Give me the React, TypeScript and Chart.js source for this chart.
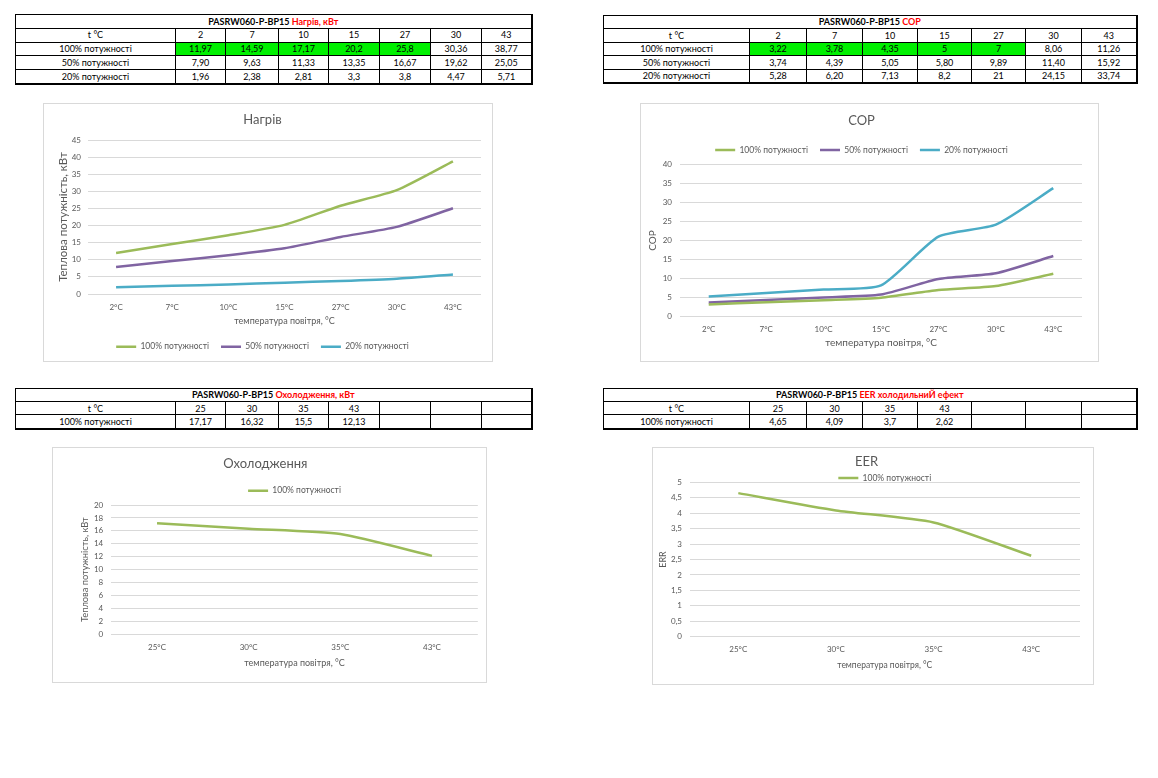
import React, { useEffect, useRef } from 'react';
import { Chart, registerables } from 'chart.js';

Chart.register(...registerables);

// ---------- data ----------
const heatTemps = ['2', '7', '10', '15', '27', '30', '43'];
const heat100Text = ['11,97', '14,59', '17,17', '20,2', '25,8', '30,36', '38,77'];
const heat50Text = ['7,90', '9,63', '11,33', '13,35', '16,67', '19,62', '25,05'];
const heat20Text = ['1,96', '2,38', '2,81', '3,3', '3,8', '4,47', '5,71'];

const cop100Text = ['3,22', '3,78', '4,35', '5', '7', '8,06', '11,26'];
const cop50Text = ['3,74', '4,39', '5,05', '5,80', '9,89', '11,40', '15,92'];
const cop20Text = ['5,28', '6,20', '7,13', '8,2', '21', '24,15', '33,74'];

const coolTemps = ['25', '30', '35', '43'];
const cool100Text = ['17,17', '16,32', '15,5', '12,13'];
const eer100Text = ['4,65', '4,09', '3,7', '2,62'];

const seriesNames = ['100% потужності', '50% потужності', '20% потужності'];
const seriesColors = ['#9bbb59', '#8064a2', '#4bacc6'];
const highlightedCells = 5;
const modelName = 'PASRW060-P-BP15';

const FONT = 'Lato, "Open Sans", "DejaVu Sans", sans-serif';
const TEXT = '#595959';
const GRID = '#d9d9d9';

const num = (s: string) => parseFloat(s.replace(',', '.'));
const degLabels = (t: string[]) => t.map((v) => `${v}°C`);

// ---------- table ----------
type Row = { label: string; cells: string[] };

function DataTable(props: {
  left: number; top: number; widths: number[]; rowH: number;
  suffix: string; header: string[]; rows: Row[]; highlight: boolean;
}) {
  const { left, top, widths, rowH, suffix, header, rows, highlight } = props;
  const total = widths.reduce((a, b) => a + b, 0);
  const cell: React.CSSProperties = {
    border: '1px solid #000', padding: 0, textAlign: 'center', height: rowH - 1,
    lineHeight: `${rowH - 4}px`, whiteSpace: 'nowrap', overflow: 'hidden',
  };
  const pad = (arr: string[]) => Array.from({ length: widths.length - 1 }, (_, i) => arr[i] ?? '');
  return (
    <table style={{
      position: 'absolute', left, top, width: total, borderCollapse: 'collapse', tableLayout: 'fixed',
      fontFamily: FONT, fontSize: 9, color: '#000', border: '1px solid #000',
      borderRight: '2px solid #000', borderBottom: '2px solid #000',
    }}>
      <colgroup>{widths.map((w, i) => <col key={i} style={{ width: w }} />)}</colgroup>
      <tbody>
        <tr>
          <td colSpan={widths.length} style={{ ...cell, fontWeight: 700 }}>
            {modelName} <span style={{ color: '#ff0000' }}>{suffix}</span>
          </td>
        </tr>
        <tr>
          <td style={cell}>t °C</td>
          {pad(header).map((h, i) => <td key={i} style={cell}>{h}</td>)}
        </tr>
        {rows.map((r, ri) => (
          <tr key={ri}>
            <td style={cell}>{r.label}</td>
            {pad(r.cells).map((c, i) => (
              <td key={i} style={{ ...cell, background: highlight && ri === 0 && i < highlightedCells ? '#00f000' : undefined }}>{c}</td>
            ))}
          </tr>
        ))}
      </tbody>
    </table>
  );
}

// ---------- chart ----------
type Spec = {
  labels: string[];
  series: { name: string; values: number[]; color: string }[];
  title: string; titleTop: number; titleBottom: number;
  legendPos: 'top' | 'bottom'; legendPad: number; legendFull: boolean; legendMaxH?: number;
  padRight: number; padBottom: number;
  yMax: number; yStep: number; yWidth: number; yTickPad: number;
  yTitle: string; yTitleSize: number; yTitlePad: number;
  xHeight: number; xTickPad: number; xTitleSize: number; xTitlePad: number;
};

function makeConfig(s: Spec): any {
  return {
    type: 'line',
    data: {
      labels: s.labels,
      datasets: s.series.map((d) => ({
        label: d.name, data: d.values, borderColor: d.color, backgroundColor: d.color,
        borderWidth: 2.5, pointRadius: 0, pointHoverRadius: 0, pointBorderWidth: 2.5,
        pointBorderColor: d.color, pointBackgroundColor: d.color, tension: 0.2, fill: false,
      })),
    },
    options: {
      animation: false, responsive: false, devicePixelRatio: 1,
      events: [],
      layout: { padding: { left: 0, top: 0, right: s.padRight, bottom: s.padBottom } },
      plugins: {
        title: {
          display: true, text: s.title, color: TEXT,
          font: { size: 13, weight: 'normal', family: FONT },
          padding: { top: s.titleTop, bottom: s.titleBottom },
        },
        legend: {
          display: true, position: s.legendPos, fullSize: s.legendFull, maxHeight: s.legendMaxH,
          labels: {
            usePointStyle: true, pointStyle: 'line', pointStyleWidth: 20, padding: s.legendPad,
            color: TEXT, font: { size: 8.5, family: FONT },
          },
        },
        tooltip: { enabled: false },
      },
      scales: {
        x: {
          offset: true,
          grid: { display: false, drawTicks: false }, border: { display: false },
          ticks: { color: TEXT, font: { size: 8, family: FONT }, padding: s.xTickPad, maxRotation: 0, autoSkip: false },
          title: {
            display: true, text: 'температура повітря, °C', color: TEXT,
            font: { size: s.xTitleSize, family: FONT }, padding: { top: 0, bottom: s.xTitlePad },
          },
          afterFit: (sc: any) => { sc.height = s.xHeight; sc.paddingLeft = 0; sc.paddingRight = 0; },
        },
        y: {
          min: 0, max: s.yMax,
          grid: { color: GRID, lineWidth: 1, drawTicks: false }, border: { display: false },
          ticks: {
            stepSize: s.yStep, autoSkip: false, color: TEXT, font: { size: 8, family: FONT }, padding: s.yTickPad,
            callback: (v: number) => String(Math.round(v * 100) / 100).replace('.', ','),
          },
          title: {
            display: true, text: s.yTitle, color: TEXT,
            font: { size: s.yTitleSize, family: FONT }, padding: { top: s.yTitlePad, bottom: 0 },
          },
          afterFit: (sc: any) => { sc.width = s.yWidth; sc.paddingTop = 0; sc.paddingBottom = 0; },
        },
      },
    },
  };
}

function LineChart(props: { left: number; top: number; width: number; height: number; spec: Spec }) {
  const { left, top, width, height, spec } = props;
  const ref = useRef<HTMLCanvasElement>(null);
  useEffect(() => {
    const chart = new Chart(ref.current as HTMLCanvasElement, makeConfig(spec));
    return () => chart.destroy();
  }, []);
  return (
    <div style={{
      position: 'absolute', left, top, width, height, border: `1px solid ${GRID}`,
      boxSizing: 'border-box', background: '#fff',
    }}>
      <canvas ref={ref} width={width - 2} height={height - 2}
        style={{ display: 'block', width: width - 2, height: height - 2 }} />
    </div>
  );
}

const leftWidths = [160, 50, 53, 50, 51, 51, 51, 50];
const rightWidths = [146, 57, 56, 55, 54, 54, 56, 55];

export default function App() {
  const heatSpec: Spec = {
    labels: degLabels(heatTemps),
    series: [heat100Text, heat50Text, heat20Text].map((arr, i) => ({ name: seriesNames[i], values: arr.map(num), color: seriesColors[i] })),
    title: 'Нагрів', titleTop: 8.2, titleBottom: 12.2,
    legendPos: 'bottom', legendPad: 12, legendFull: true,
    padRight: 11, padBottom: 0,
    yMax: 45, yStep: 5, yWidth: 44, yTickPad: 7,
    yTitle: 'Теплова потужність, кВт', yTitleSize: 11.5, yTitlePad: 12.1,
    xHeight: 36.5, xTickPad: 8.2, xTitleSize: 9, xTitlePad: 4.1,
  };
  const copSpec: Spec = {
    labels: degLabels(heatTemps),
    series: [cop100Text, cop50Text, cop20Text].map((arr, i) => ({ name: seriesNames[i], values: arr.map(num), color: seriesColors[i] })),
    title: 'COP', titleTop: 9.2, titleBottom: 5.0,
    legendPos: 'top', legendPad: 12, legendFull: true,
    padRight: 16, padBottom: 0,
    yMax: 40, yStep: 5, yWidth: 39, yTickPad: 8,
    yTitle: 'COP', yTitleSize: 10, yTitlePad: 6,
    xHeight: 44.3, xTickPad: 7.5, xTitleSize: 10, xTitlePad: 12,
  };
  const coolSpec: Spec = {
    labels: degLabels(coolTemps),
    series: [{ name: seriesNames[0], values: cool100Text.map(num), color: seriesColors[0] }],
    title: 'Охолодження', titleTop: 8.2, titleBottom: 4.7,
    legendPos: 'top', legendPad: 10, legendFull: false,
    padRight: 8.2, padBottom: 0,
    yMax: 20, yStep: 2, yWidth: 58.2, yTickPad: 8,
    yTitle: 'Теплова потужність, кВт', yTitleSize: 9.3, yTitlePad: 26.4,
    xHeight: 47.7, xTickPad: 7.9, xTitleSize: 9, xTitlePad: 13.6,
  };
  const eerSpec: Spec = {
    labels: degLabels(coolTemps),
    series: [{ name: seriesNames[0], values: eer100Text.map(num), color: seriesColors[0] }],
    title: 'EER', titleTop: 6.2, titleBottom: 1.95,
    legendPos: 'top', legendPad: 2, legendFull: false, legendMaxH: 10.55,
    padRight: 13, padBottom: 0,
    yMax: 5, yStep: 0.5, yWidth: 36.5, yTickPad: 7.5,
    yTitle: 'ERR', yTitleSize: 9, yTitlePad: 4.6,
    xHeight: 47.3, xTickPad: 7.5, xTitleSize: 8.5, xTitlePad: 13.9,
  };

  return (
    <div style={{ position: 'absolute', left: 0, top: 0, width: 1158, height: 778, background: '#fff', overflow: 'hidden' }}>
      <DataTable left={15} top={14} widths={leftWidths} rowH={13.8} suffix="Нагрів, кВт" header={heatTemps} highlight
        rows={[
          { label: seriesNames[0], cells: heat100Text },
          { label: seriesNames[1], cells: heat50Text },
          { label: seriesNames[2], cells: heat20Text },
        ]} />
      <DataTable left={603} top={15} widths={rightWidths} rowH={13.4} suffix="COP" header={heatTemps} highlight
        rows={[
          { label: seriesNames[0], cells: cop100Text },
          { label: seriesNames[1], cells: cop50Text },
          { label: seriesNames[2], cells: cop20Text },
        ]} />
      <DataTable left={15} top={388} widths={leftWidths} rowH={13.2} suffix="Охолодження, кВт" header={coolTemps} highlight={false}
        rows={[{ label: seriesNames[0], cells: cool100Text }]} />
      <DataTable left={603} top={388} widths={rightWidths} rowH={13.2} suffix="EER холодильниЙ ефект" header={coolTemps} highlight={false}
        rows={[{ label: seriesNames[0], cells: eer100Text }]} />

      <LineChart left={43} top={103} width={450} height={259} spec={heatSpec} />
      <LineChart left={640} top={103} width={459} height={259} spec={copSpec} />
      <LineChart left={52} top={447} width={435} height={236} spec={coolSpec} />
      <LineChart left={652} top={447} width={442} height={238} spec={eerSpec} />
    </div>
  );
}
